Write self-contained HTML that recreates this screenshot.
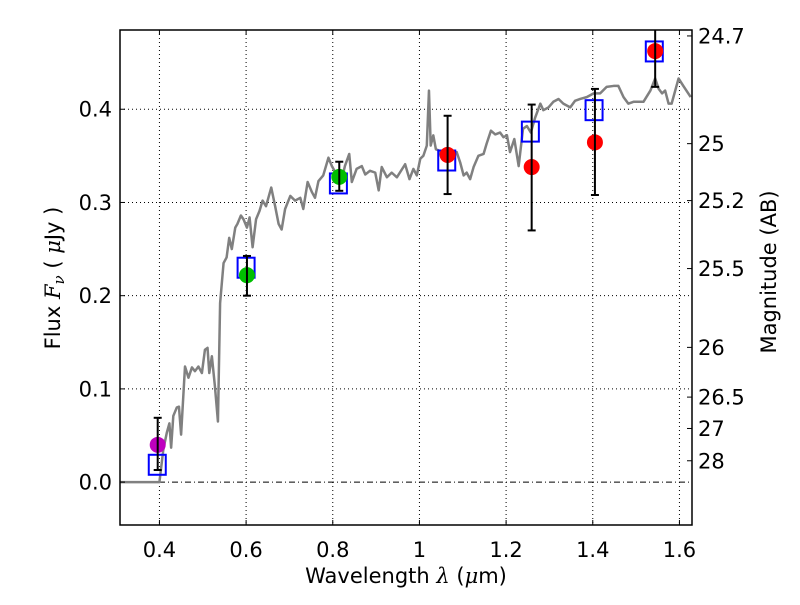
<!DOCTYPE html>
<html><head><meta charset="utf-8"><style>
body{margin:0;background:#fff}
svg text{font-family:"DejaVu Sans","Liberation Sans",sans-serif;fill:#000}
</style></head><body>
<svg id="chart" width="800" height="600" xmlns="http://www.w3.org/2000/svg">
<rect width="800" height="600" fill="#fff"/>
<g id="grid"></g><g id="spec"></g><g id="marks"></g><g id="axes"></g>
</svg>
<script>
const specLam=[0.31,0.4,0.409,0.417,0.423,0.427,0.432,0.44,0.445,0.45,0.459,0.467,0.475,0.482,0.49,0.498,0.505,0.511,0.515,0.521,0.528,0.535,0.54,0.548,0.555,0.561,0.567,0.575,0.58,0.588,0.594,0.602,0.608,0.615,0.623,0.631,0.638,0.646,0.658,0.667,0.675,0.682,0.69,0.702,0.713,0.725,0.732,0.742,0.752,0.759,0.767,0.778,0.79,0.798,0.81,0.82,0.828,0.838,0.844,0.855,0.867,0.875,0.886,0.898,0.906,0.913,0.925,0.936,0.948,0.967,0.977,0.986,0.994,1.002,1.009,1.017,1.022,1.026,1.032,1.038,1.044,1.052,1.063,1.075,1.086,1.094,1.102,1.109,1.117,1.125,1.136,1.148,1.155,1.165,1.175,1.186,1.194,1.202,1.209,1.219,1.229,1.239,1.248,1.257,1.267,1.279,1.286,1.298,1.309,1.321,1.332,1.348,1.359,1.371,1.386,1.402,1.417,1.432,1.448,1.459,1.471,1.482,1.494,1.517,1.533,1.544,1.552,1.56,1.567,1.575,1.582,1.598,1.609,1.626];
const specFlux=[0,0,0.035,0.053,0.063,0.037,0.071,0.080,0.081,0.051,0.124,0.112,0.123,0.119,0.124,0.117,0.142,0.144,0.117,0.135,0.103,0.065,0.192,0.235,0.241,0.262,0.250,0.273,0.277,0.286,0.282,0.273,0.284,0.252,0.282,0.291,0.302,0.296,0.316,0.296,0.277,0.271,0.293,0.307,0.302,0.305,0.293,0.322,0.311,0.305,0.323,0.329,0.348,0.339,0.329,0.323,0.339,0.352,0.322,0.336,0.339,0.330,0.334,0.332,0.313,0.338,0.327,0.332,0.327,0.341,0.325,0.336,0.329,0.347,0.350,0.361,0.420,0.361,0.372,0.357,0.356,0.347,0.352,0.348,0.354,0.343,0.329,0.332,0.325,0.338,0.350,0.352,0.363,0.377,0.373,0.375,0.370,0.372,0.354,0.368,0.339,0.379,0.382,0.375,0.391,0.406,0.399,0.402,0.408,0.411,0.406,0.402,0.409,0.411,0.413,0.417,0.417,0.424,0.425,0.425,0.413,0.406,0.408,0.408,0.420,0.433,0.422,0.417,0.420,0.406,0.406,0.433,0.425,0.413];
const obsLam=[0.396,0.602,0.815,1.065,1.259,1.405,1.544];
const obsFlux=[0.040,0.222,0.3275,0.351,0.338,0.3645,0.4624];
const obsErrHi=[0.069,0.2426,0.3437,0.393,0.405,0.4218,0.50];
const obsErrLo=[0.013,0.200,0.3125,0.309,0.270,0.308,0.424];
const obsColor=["#bf00bf","#00bf00","#00bf00","#ff0000","#ff0000","#ff0000","#ff0000"];
const modLam=[0.395,0.6,0.813,1.063,1.256,1.403,1.542];
const modFlux=[0.0186,0.230,0.3204,0.345,0.376,0.399,0.462];
const xTicks=[0.4,0.6,0.8,1.0,1.2,1.4,1.6];
const xTickLabels=["0.4","0.6","0.8","1","1.2","1.4","1.6"];
const yTicks=[0,0.1,0.2,0.3,0.4];
const yTickLabels=["0.0","0.1","0.2","0.3","0.4"];
const magTicks=[24.7,25,25.2,25.5,26,26.5,27,28];
const magLabels=["24.7","25","25.2","25.5","26","26.5","27","28"];

const L=120,R=692,T=30,B=525,X0=0.309,X1=1.629,Y0=-0.046,Y1=0.485;
const sx=v=>L+(v-X0)/(X1-X0)*(R-L);
const sy=v=>B-(v-Y0)/(Y1-Y0)*(B-T);
const NS="http://www.w3.org/2000/svg";
function mk(tag,attrs,parent,txt){const e=document.createElementNS(NS,tag);for(const k in attrs)e.setAttribute(k,attrs[k]);if(txt!==undefined)e.textContent=txt;document.getElementById(parent).appendChild(e);return e;}

xTicks.forEach((t,i)=>{
 const g=mk('line',{x1:sx(t),x2:sx(t),y1:T,y2:B,stroke:'#000','stroke-width':1,'stroke-dasharray':'1,3'},'grid');
 
 
 mk('line',{x1:sx(t),x2:sx(t),y1:B,y2:B-5,stroke:'#000'},'axes');
 mk('line',{x1:sx(t),x2:sx(t),y1:T,y2:T+5,stroke:'#000'},'axes');
 const lb=mk('text',{x:sx(t),y:557,'font-size':21,'text-anchor':'middle'},'axes',xTickLabels[i]);
 
 
});
yTicks.forEach((t,i)=>{
 if(t!==0){const g=mk('line',{x1:L,x2:R,y1:sy(t),y2:sy(t),stroke:'#000','stroke-width':1,'stroke-dasharray':'1,3'},'grid');
 
 }
 mk('line',{x1:L,x2:L+5,y1:sy(t),y2:sy(t),stroke:'#000'},'axes');
 const lb=mk('text',{x:112,y:sy(t)+7.5,'font-size':21,'text-anchor':'end'},'axes',yTickLabels[i]);
 
 
});
const zl=mk('line',{x1:L,x2:R,y1:sy(0),y2:sy(0),stroke:'#000','stroke-width':1,'stroke-dasharray':'6,3,1,3'},'grid');


magTicks.forEach((m,i)=>{
 const f=Math.pow(10,(23.9-m)/2.5);
 mk('line',{x1:R,x2:R-5,y1:sy(f),y2:sy(f),stroke:'#000'},'axes');
 const lb=mk('text',{x:698,y:sy(f)+7.5,'font-size':21},'axes',magLabels[i]);
 
 
});

const sp=mk('polyline',{points:specLam.map((l,i)=>sx(l)+','+sy(specFlux[i])).join(' '),fill:'none',stroke:'#808080','stroke-width':2.5,'stroke-linejoin':'round'},'spec');



modLam.forEach((l,i)=>{
 const r=mk('rect',{x:sx(l)-8.5,y:sy(modFlux[i])-10,width:17,height:20,fill:'none',stroke:'#0000ff','stroke-width':2},'marks');
 
 
});
obsLam.forEach((l,i)=>{
 const c=mk('circle',{cx:sx(l),cy:sy(obsFlux[i]),r:8,fill:obsColor[i]},'marks');
 
 
});
obsLam.forEach((l,i)=>{
 const x=sx(l),y1=Math.max(T,sy(obsErrHi[i])),y2=sy(obsErrLo[i]);
 const e=mk('line',{x1:x,x2:x,y1:y1,y2:y2,stroke:'#000','stroke-width':2},'marks');
 
 
 if(sy(obsErrHi[i])>=T)mk('line',{x1:x-4,x2:x+4,y1:y1,y2:y1,stroke:'#000','stroke-width':2},'marks');
 mk('line',{x1:x-4,x2:x+4,y1:y2,y2:y2,stroke:'#000','stroke-width':2},'marks');
});

const fr=mk('rect',{x:L,y:T,width:R-L,height:B-T,fill:'none',stroke:'#000','stroke-width':1.5},'axes');


</script>
<svg style="position:absolute;left:0;top:0" width="800" height="600" xmlns="http://www.w3.org/2000/svg">
<text x="406" y="583" font-size="21" text-anchor="middle" font-family="DejaVu Sans, sans-serif">Wavelength  <tspan font-style="italic" font-family="DejaVu Serif, serif">λ</tspan> (<tspan font-style="italic" font-family="DejaVu Serif, serif">μ</tspan>m)</text>
<text transform="translate(60,278) rotate(-90)" font-size="21" text-anchor="middle" font-family="DejaVu Sans, sans-serif">Flux  <tspan font-style="italic" font-family="DejaVu Serif, serif">F</tspan><tspan font-style="italic" font-size="15" dy="4" font-family="DejaVu Serif, serif">ν</tspan><tspan dy="-4">  (  </tspan><tspan font-style="italic" font-family="DejaVu Serif, serif">μ</tspan>Jy )</text>
<text transform="translate(776,272) rotate(-90)" font-size="21" text-anchor="middle" font-family="DejaVu Sans, sans-serif">Magnitude (AB)</text>
</svg>
</body></html>
